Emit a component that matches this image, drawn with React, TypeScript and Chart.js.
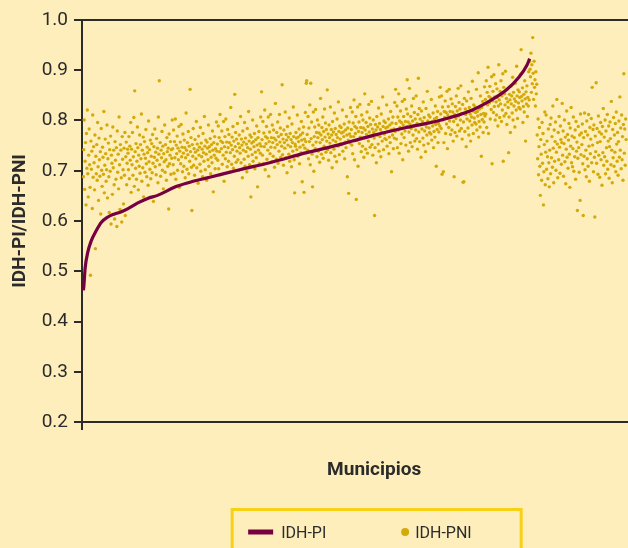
import React, { useEffect, useRef } from 'react';
import { Chart, registerables } from 'chart.js';

Chart.register(...registerables);

// ---- Data ----
const seriesNames = ['IDH-PI', 'IDH-PNI'];
const xTitle = 'Municipios';
const yTitle = 'IDH-PI/IDH-PNI';
const yMin = 0.2;
const yMax = 1.0;
const yStep = 0.1;
const rankMin = -3;
const rankMax = 1305;

// IDH-PI (sorted curve): municipality rank -> value
const piRank = [0, 1, 4, 10, 17, 29, 40, 55, 70, 84, 99, 122, 144, 166, 209, 246, 283, 350, 417, 500, 574, 618, 647, 723, 797, 871, 908, 946, 975, 993, 999];
const piValue = [.462, .469, .506, .538, .559, .581, .597, .608, .614, .618, .624, .636, .645, .651, .669, .679, .687, .702, .716, .736, .752, .763, .770, .786, .800, .821, .838, .860, .886, .910, .923];

// IDH-PNI per municipality (same rank order as IDH-PI)
const pniRanks0 = [
  .688,.742,.801,.663,.719,.756,.632,.774,.705,.821,
  .694,.648,.731,.783,.712,.667,.492,.759,.703,.739,
  .625,.811,.687,.748,.716,.662,.771,.545,.729,.694,
  .752,.681,.796,.708,.641,.765,.722,.689,.738,.614,
  .784,.701,.669,.747,.727,.693,.818,.656,.711,.763,
  .734,.679,.702,.791,.646,.724,.755,.688,.617,.742,
  .699,.769,.594,.731,.715,.653,.787,.706,.741,.672,
  .604,.758,.721,.683,.746,.589,.779,.697,.733,.664,
  .807,.712,.623,.752,.741,.686,.598,.768,.723,.702,
  .634,.745,.691,.776,.611,.728,.757,.672,.715,.743
];
const pniRanks1 = [
  .735,.702,.768,.684,.749,.721,.796,.657,.743,.712,
  .776,.691,.728,.806,.669,.859,.738,.705,.754,.683,
  .719,.787,.746,.662,.731,.709,.771,.695,.752,.724,
  .813,.679,.741,.706,.767,.648,.733,.758,.697,.725,
  .782,.714,.688,.747,.736,.671,.799,.718,.742,.703,
  .761,.684,.729,.754,.696,.772,.715,.639,.748,.727,
  .783,.708,.737,.692,.764,.721,.745,.676,.807,.733,
  .879,.712,.756,.689,.741,.726,.778,.701,.749,.664,
  .734,.718,.791,.697,.752,.722,.681,.766,.738,.709,
  .745,.624,.773,.714,.731,.758,.693,.742,.725,.801
];
const pniRanks2 = [
  .744,.712,.781,.695,.758,.726,.803,.683,.751,.734,
  .769,.701,.745,.722,.788,.667,.739,.757,.714,.792,
  .728,.747,.698,.773,.735,.709,.761,.746,.686,.726,
  .815,.741,.703,.756,.732,.778,.694,.749,.719,.862,
  .738,.766,.707,.621,.752,.729,.784,.711,.744,.691,
  .762,.737,.724,.798,.706,.753,.741,.675,.769,.731,
  .747,.713,.786,.699,.755,.728,.743,.688,.774,.736,
  .719,.808,.749,.702,.761,.733,.681,.757,.745,.722,
  .791,.709,.748,.738,.764,.694,.727,.752,.716,.779,
  .741,.658,.756,.731,.768,.704,.744,.725,.797,.739
];
const pniRanks3 = [
  .753,.721,.789,.704,.766,.738,.812,.692,.759,.744,
  .779,.713,.756,.731,.798,.679,.748,.768,.724,.803,
  .737,.757,.708,.782,.746,.719,.772,.756,.697,.736,
  .826,.751,.713,.767,.742,.788,.705,.759,.729,.852,
  .748,.776,.717,.763,.739,.794,.722,.754,.701,.771,
  .746,.735,.808,.716,.763,.751,.686,.779,.741,.757,
  .723,.796,.709,.765,.738,.753,.698,.784,.746,.729,
  .818,.759,.712,.771,.743,.648,.767,.755,.732,.801,
  .719,.758,.748,.774,.704,.737,.762,.726,.789,.751,
  .668,.766,.741,.778,.714,.754,.735,.807,.749,.857
];
const pniRanks4 = [
  .762,.731,.798,.714,.775,.748,.821,.702,.768,.754,
  .788,.723,.765,.741,.807,.689,.758,.777,.734,.812,
  .747,.766,.718,.791,.756,.729,.781,.765,.707,.746,
  .834,.761,.723,.776,.752,.797,.715,.768,.739,.812,
  .757,.785,.727,.772,.749,.871,.732,.763,.711,.781,
  .756,.745,.817,.726,.772,.761,.696,.788,.751,.767,
  .733,.805,.719,.774,.748,.762,.708,.793,.756,.739,
  .827,.768,.722,.656,.753,.749,.776,.765,.742,.811,
  .729,.767,.758,.783,.714,.747,.771,.736,.798,.761,
  .678,.775,.751,.787,.657,.763,.745,.816,.758,.874
];
const pniRanks5 = [
  .879,.772,.741,.808,.724,.785,.758,.831,.712,.874,
  .764,.797,.733,.668,.751,.817,.699,.768,.787,.744,
  .822,.757,.776,.728,.801,.766,.739,.791,.775,.717,
  .756,.844,.771,.733,.786,.762,.807,.725,.778,.749,
  .823,.767,.795,.737,.782,.759,.861,.742,.773,.721,
  .791,.766,.755,.827,.736,.782,.771,.706,.798,.761,
  .777,.743,.815,.729,.784,.758,.772,.718,.803,.766,
  .749,.837,.778,.732,.789,.763,.754,.786,.775,.752,
  .821,.739,.777,.768,.793,.724,.757,.781,.746,.808,
  .771,.688,.785,.761,.655,.797,.773,.755,.826,.768
];
const pniRanks6 = [
  .782,.751,.817,.734,.795,.768,.841,.722,.788,.774,
  .808,.643,.785,.761,.827,.709,.778,.797,.754,.832,
  .767,.786,.738,.811,.776,.749,.801,.785,.727,.766,
  .853,.781,.743,.796,.772,.817,.735,.788,.759,.832,
  .777,.805,.747,.792,.769,.838,.752,.783,.731,.801,
  .776,.765,.611,.746,.792,.781,.716,.808,.771,.787,
  .753,.825,.739,.794,.768,.782,.728,.813,.776,.759,
  .847,.788,.742,.799,.773,.764,.796,.785,.762,.831,
  .749,.787,.778,.803,.734,.767,.791,.756,.818,.781,
  .698,.795,.771,.807,.744,.783,.765,.836,.778,.862
];
const pniRanks7 = [
  .794,.763,.829,.746,.807,.781,.853,.735,.799,.786,
  .819,.754,.796,.773,.838,.722,.791,.808,.766,.842,
  .779,.798,.751,.823,.788,.881,.813,.797,.739,.777,
  .864,.793,.756,.808,.784,.829,.748,.799,.771,.844,
  .789,.816,.759,.803,.781,.849,.764,.794,.743,.812,
  .884,.777,.824,.758,.803,.792,.727,.819,.783,.798,
  .765,.837,.751,.806,.779,.793,.738,.824,.787,.771,
  .858,.799,.754,.811,.785,.776,.807,.796,.773,.842,
  .761,.798,.789,.815,.746,.778,.803,.767,.829,.792,
  .709,.806,.782,.818,.756,.794,.777,.847,.789,.866
];
const pniRanks8 = [
  .813,.784,.849,.693,.827,.801,.698,.756,.818,.806,
  .839,.774,.816,.793,.858,.744,.811,.828,.786,.862,
  .799,.818,.772,.843,.808,.781,.833,.817,.759,.798,
  .688,.812,.776,.828,.804,.849,.769,.819,.791,.864,
  .809,.836,.779,.823,.801,.869,.784,.814,.763,.832,
  .677,.797,.678,.844,.778,.823,.812,.748,.839,.803,
  .818,.785,.857,.771,.826,.799,.813,.759,.844,.807,
  .791,.878,.819,.774,.831,.805,.796,.827,.816,.793,
  .862,.781,.818,.809,.895,.767,.798,.823,.787,.849,
  .812,.729,.826,.802,.838,.776,.814,.797,.867,.809
];
const pniRanks9 = [
  .842,.813,.879,.786,.856,.831,.906,.774,.848,.835,
  .868,.803,.845,.822,.887,.714,.839,.858,.816,.891,
  .828,.847,.801,.873,.837,.811,.863,.846,.789,.829,
  .911,.841,.806,.858,.833,.879,.798,.849,.821,.893,
  .719,.866,.809,.853,.831,.898,.814,.844,.792,.862,
  .837,.826,.736,.807,.852,.841,.776,.868,.833,.849,
  .815,.886,.801,.856,.829,.843,.787,.874,.838,.821,
  .908,.849,.804,.861,.835,.826,.857,.846,.823,.892,
  .941,.848,.839,.865,.796,.828,.852,.817,.879,.843,
  .759,.857,.833,.869,.808,.846,.829,.897,.841,.918
];
const pniRanksTail = [.902,.887,.934,.856,.911,.873,.965,.894,.842,.918,.866,.881,.829,.897,.853,.872];

// IDH-PNI for municipalities without IDH-PI (right-hand group)
const pniOtherStart = 1016;
const pniOtherA = [
  .771,.724,.803,.692,.748,.786,.709,.651,.762,.733,
  .681,.796,.715,.774,.632,.698,.752,.817,.672,.737,
  .811,.703,.759,.728,.684,.783,.716,.668,.741,.792,
  .694,.805,.726,.768,.707,.829,.745,.676,.781,.719,
  .758,.797,.701,.737,.842,.753,.686,.776,.722,.808,
  .747,.695,.789,.762,.713,.756,.834,.731,.779,.689,
  .754,.801,.718,.767,.674,.743,.819,.727,.772,.705,
  .761,.794,.733,.667,.785,.749,.826,.716,.769,.708,
  .744,.807,.699,.766,.728,.781,.683,.798,.739,.757,
  .621,.725,.788,.746,.697,.771,.641,.813,.732,.775
];
const pniOtherB = [
  .752,.793,.714,.611,.766,.729,.815,.702,.778,.741,
  .688,.799,.724,.771,.709,.812,.749,.679,.786,.734,
  .763,.804,.716,.866,.751,.782,.698,.791,.727,.608,
  .769,.738,.875,.715,.784,.756,.693,.809,.731,.777,
  .687,.758,.796,.722,.773,.671,.788,.736,.824,.711,
  .767,.728,.801,.694,.779,.746,.719,.812,.703,.759,
  .789,.685,.748,.797,.764,.712,.838,.741,.676,.782,
  .726,.806,.709,.771,.737,.794,.698,.817,.753,.719,
  .776,.691,.758,.799,.727,.847,.741,.785,.704,.811,
  .722,.768,.681,.792,.893,.735,.783,.711,.803,.762
];

// ---- Styles ----
const BG = '#FDEEBB';
const INK = '#2b2b2b';
const PI_COLOR = '#770040';
const PNI_COLOR = '#D4AA0A';
const LEGEND_BORDER = '#F9D114';
const FONT = 'Roboto';

export default function App() {
  const ref = useRef<HTMLCanvasElement>(null);

  useEffect(() => {
    const pniMain = [
      ...pniRanks0, ...pniRanks1, ...pniRanks2, ...pniRanks3, ...pniRanks4,
      ...pniRanks5, ...pniRanks6, ...pniRanks7, ...pniRanks8, ...pniRanks9, ...pniRanksTail,
    ];
    const pniOther = [...pniOtherA, ...pniOtherB];
    const scatterData = [
      ...pniMain.map((y, i) => ({ x: i, y })),
      ...pniOther.map((y, i) => ({ x: pniOtherStart + i, y })),
    ];
    const lineData = piRank.map((x, i) => ({ x, y: piValue[i] }));

    const decor = {
      id: 'decor',
      afterDraw(chart: any) {
        const { ctx, chartArea } = chart;
        ctx.save();
        ctx.strokeStyle = INK;
        ctx.lineWidth = 2;
        // top frame line
        ctx.beginPath();
        ctx.moveTo(chartArea.left - 1, chartArea.top);
        ctx.lineTo(chartArea.right, chartArea.top);
        ctx.stroke();
        // y-axis extension below x-axis
        ctx.beginPath();
        ctx.moveTo(chartArea.left, chartArea.bottom);
        ctx.lineTo(chartArea.left, chartArea.bottom + 8);
        ctx.stroke();

        // legend box
        const cx = (chartArea.left + chartArea.right) / 2;
        const top = 509.5;
        ctx.strokeStyle = LEGEND_BORDER;
        ctx.lineWidth = 3;
        ctx.strokeRect(cx - 142, top, 289, 80);
        // IDH-PI item
        ctx.fillStyle = PI_COLOR;
        ctx.fillRect(cx - 126, 529.5, 25, 5);
        ctx.fillStyle = INK;
        ctx.font = `16px ${FONT}`;
        ctx.textBaseline = 'alphabetic';
        ctx.textAlign = 'left';
        ctx.fillText(seriesNames[0], cx - 93, 538);
        // IDH-PNI item
        ctx.fillStyle = PNI_COLOR;
        ctx.beginPath();
        ctx.arc(cx + 31, 532, 4, 0, Math.PI * 2);
        ctx.fill();
        ctx.fillStyle = INK;
        ctx.fillText(seriesNames[1], cx + 41, 538);
        ctx.restore();
      },
    };

    const chart = new Chart(ref.current as HTMLCanvasElement, {
      type: 'scatter',
      data: {
        datasets: [
          {
            type: 'line',
            label: seriesNames[0],
            data: lineData,
            borderColor: PI_COLOR,
            borderWidth: 3.2,
            pointRadius: 0,
            fill: false,
            cubicInterpolationMode: 'monotone',
            order: 0,
          } as any,
          {
            type: 'scatter',
            label: seriesNames[1],
            data: scatterData,
            backgroundColor: PNI_COLOR,
            borderWidth: 0,
            pointRadius: 1.7,
            pointHoverRadius: 1.7,
            order: 1,
          } as any,
        ],
      },
      options: {
        responsive: false,
        devicePixelRatio: 1,
        animation: false,
        events: [],
        layout: { padding: { top: 20, left: 0, right: 0, bottom: 0 } },
        plugins: {
          legend: { display: false },
          tooltip: { enabled: false },
        },
        scales: {
          x: {
            type: 'linear',
            min: rankMin,
            max: rankMax,
            grid: { display: false, drawTicks: false },
            border: { display: true, color: INK, width: 2 },
            ticks: { display: false },
            title: {
              display: true,
              text: xTitle,
              color: INK,
              font: { family: FONT, size: 19, weight: 'bold' },
              padding: { top: 0, bottom: 66 },
            },
            afterFit: (s: any) => {
              s.height = 126;
              s.paddingLeft = 0;
              s.paddingRight = 0;
            },
          },
          y: {
            type: 'linear',
            min: yMin,
            max: yMax,
            ticks: {
              stepSize: yStep,
              color: INK,
              padding: 6,
              font: { family: FONT, size: 19 },
              callback: (v: any) => Number(v).toFixed(1),
            },
            grid: {
              drawOnChartArea: false,
              drawTicks: true,
              tickLength: 8,
              color: INK,
              lineWidth: 2,
            },
            border: { display: true, color: INK, width: 2 },
            title: {
              display: true,
              text: yTitle,
              color: INK,
              font: { family: FONT, size: 19, weight: 'bold' },
              padding: { top: 9, bottom: 0 },
            },
            afterFit: (s: any) => {
              s.width = 82;
              s.paddingTop = 0;
              s.paddingBottom = 0;
            },
          },
        },
      } as any,
      plugins: [decor],
    });
    return () => chart.destroy();
  }, []);

  return (
    <div
      style={{
        position: 'fixed',
        left: 0,
        top: 0,
        width: 628,
        height: 548,
        overflow: 'hidden',
        background: BG,
      }}
    >
      <canvas ref={ref} width={668} height={548} style={{ display: 'block', width: 668, height: 548 }} />
    </div>
  );
}
